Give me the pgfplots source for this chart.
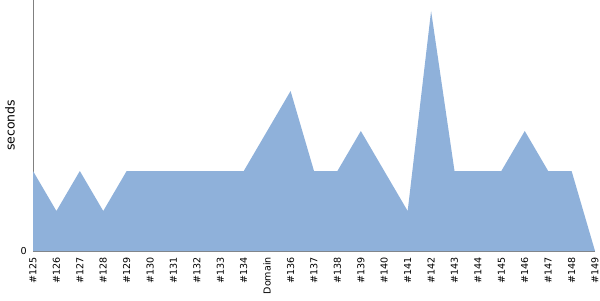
\documentclass[border=0pt]{standalone}
\usepackage{pgfplots}
\pgfplotsset{compat=1.18}
\usepackage{fontspec}
\setmainfont{DejaVu Sans}
\definecolor{areablue}{RGB}{143,177,218}
\definecolor{axgray}{RGB}{128,128,128}
\begin{document}
\begin{tikzpicture}[x=1bp,y=1bp]
\useasboundingbox (0,0) rectangle (600,300);
\begin{axis}[
  at={(33bp,49bp)}, anchor=south west,
  scale only axis, width=562bp, height=251bp,
  xmin=0, xmax=24, ymin=0, ymax=6.275,
  axis lines=left,
  axis line style={-, draw=axgray, line width=0.8bp},
  xtick={0,...,24},
  xticklabels={\#125,\#126,\#127,\#128,\#129,\#130,\#131,\#132,\#133,\#134,Domain,\#136,\#137,\#138,\#139,\#140,\#141,\#142,\#143,\#144,\#145,\#146,\#147,\#148,\#149},
  xticklabel style={rotate=90, anchor=east, font=\fontsize{9.6}{10}\selectfont, inner sep=0bp},
  xticklabel shift=6bp,
  ytick={0},
  yticklabel style={font=\fontsize{9.6}{10}\selectfont, inner sep=0bp},
  yticklabel shift=6bp,
  major tick length=0pt,
  ylabel={seconds},
  every axis y label/.style={at={(axis description cs:-0.041,0.5)}, rotate=90, anchor=center, font=\fontsize{12.5}{14}\selectfont},
  /pgf/number format/assume math mode=true,
  clip=false,
]
\addplot[fill=areablue, draw=none] coordinates {
(0,2) (1,1) (2,2) (3,1) (4,2) (5,2) (6,2) (7,2) (8,2) (9,2) (10,3) (11,4) (12,2) (13,2) (14,3) (15,2) (16,1) (17,6) (18,2) (19,2) (20,2) (21,3) (22,2) (23,2) (24,0)
} \closedcycle;
\end{axis}
\end{tikzpicture}
\end{document}
